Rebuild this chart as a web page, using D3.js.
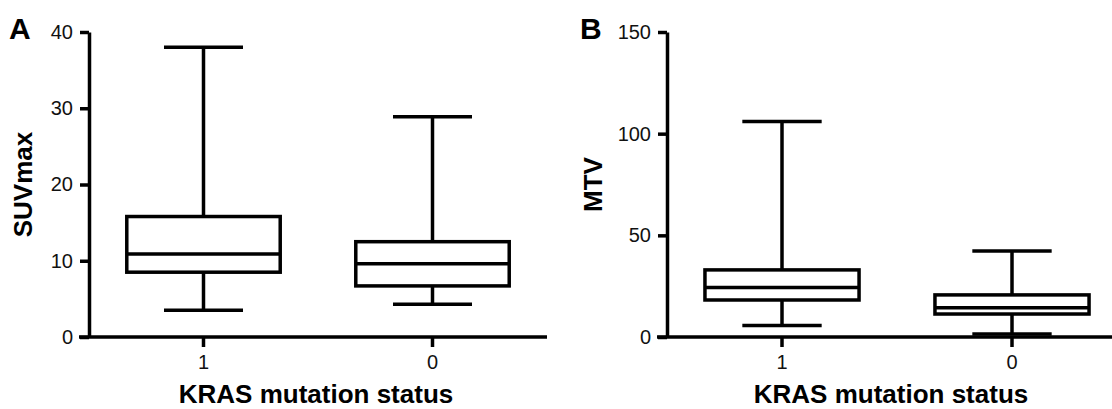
<!DOCTYPE html>
<html>
<head>
<meta charset="utf-8">
<script src="https://d3js.org/d3.v7.min.js"></script>
<style>
  body { margin: 0; background: #fff; }
  svg { font-family: "Liberation Sans", Arial, sans-serif; }
</style>
</head>
<body>
<script>
// categories on the x axis (KRAS mutation status)
var groups = ["1", "0"];

// box stats per group: [min, q1, median, q3, max]
var suvMin    = [3.5, 4.3];
var suvQ1     = [8.5, 6.7];
var suvMedian = [10.9, 9.6];
var suvQ3     = [15.8, 12.5];
var suvMax    = [38.0, 28.9];

var mtvMin    = [5.6, 1.5];
var mtvQ1     = [18.2, 11.3];
var mtvMedian = [24.3, 14.4];
var mtvQ3     = [33.0, 20.7];
var mtvMax    = [106.0, 42.3];

var suvTicks = [0, 10, 20, 30, 40];
var mtvTicks = [0, 50, 100, 150];

var width = 1112, height = 409;

var svg = d3.select("body").append("svg")
    .attr("width", width)
    .attr("height", height);

function boxes(mins, q1s, meds, q3s, maxs) {
  return groups.map((g, i) => ({g: g, min: mins[i], q1: q1s[i], med: meds[i], q3: q3s[i], max: maxs[i]}));
}

function panel(opt) {
  var g = svg.append("g");
  var x = d3.scaleBand(groups, [opt.x0, opt.x1]);
  var y = d3.scaleLinear([0, opt.ticks[opt.ticks.length - 1]], [337, 32]);
  var bw = x.bandwidth() * 0.67;
  var cw = x.bandwidth() * 0.345;
  var sw = 3.5;

  // y axis
  var ya = g.append("g")
      .attr("transform", `translate(${opt.x0},0)`)
      .call(d3.axisLeft(y).tickValues(opt.ticks).tickSize(9).tickSizeOuter(0).tickPadding(7));
  ya.select(".domain").attr("stroke-width", sw);
  ya.selectAll(".tick line").attr("stroke-width", sw);
  ya.selectAll(".tick text").attr("font-size", 20).attr("fill", "#111");

  // x axis
  var xa = g.append("g")
      .attr("transform", `translate(0,${y(0)})`)
      .call(d3.axisBottom(x).tickSize(10).tickSizeOuter(0).tickPadding(8));
  xa.select(".domain").remove();
  xa.append("line")
      .attr("x1", opt.x0 - 10).attr("x2", opt.xEnd)
      .attr("stroke", "#000").attr("stroke-width", sw);
  xa.selectAll(".tick line").attr("stroke-width", sw);
  xa.selectAll(".tick text").attr("font-size", 20).attr("fill", "#111");

  var data = opt.data;
  var bx = g.append("g")
      .attr("fill", "none")
      .attr("stroke", "#000")
      .attr("stroke-width", sw)
    .selectAll("g")
    .data(data)
    .join("g")
      .attr("transform", d => `translate(${x(d.g) + x.bandwidth() / 2},0)`);

  bx.append("line")
      .attr("y1", d => y(d.max)).attr("y2", d => y(d.q3));
  bx.append("line")
      .attr("y1", d => y(d.q1)).attr("y2", d => y(d.min));
  bx.append("line")
      .attr("x1", -cw / 2).attr("x2", cw / 2)
      .attr("y1", d => y(d.max)).attr("y2", d => y(d.max));
  bx.append("line")
      .attr("x1", -cw / 2).attr("x2", cw / 2)
      .attr("y1", d => y(d.min)).attr("y2", d => y(d.min));
  bx.append("rect")
      .attr("x", -bw / 2).attr("width", bw)
      .attr("y", d => y(d.q3)).attr("height", d => y(d.q1) - y(d.q3))
      .attr("fill", "#fff");
  bx.append("line")
      .attr("x1", -bw / 2).attr("x2", bw / 2)
      .attr("y1", d => y(d.med)).attr("y2", d => y(d.med));

  // axis titles
  g.append("text")
      .attr("x", opt.titleX).attr("y", 403)
      .attr("text-anchor", "middle")
      .attr("font-size", 26).attr("font-weight", "bold")
      .text("KRAS mutation status");
  g.append("text")
      .attr("transform", `translate(${opt.labelX},${(y.range()[0] + y.range()[1]) / 2}) rotate(-90)`)
      .attr("text-anchor", "middle")
      .attr("font-size", 26).attr("font-weight", "bold")
      .text(opt.label);
  g.append("text")
      .attr("x", opt.letterX).attr("y", 39)
      .attr("font-size", 30).attr("font-weight", "bold")
      .text(opt.letter);
}

panel({
  x0: 89, x1: 547, xEnd: 547,
  ticks: suvTicks,
  data: boxes(suvMin, suvQ1, suvMedian, suvQ3, suvMax),
  label: "SUVmax", labelX: 32, titleX: 316, letter: "A", letterX: 9
});

panel({
  x0: 667, x1: 1127, xEnd: 1112,
  ticks: mtvTicks,
  data: boxes(mtvMin, mtvQ1, mtvMedian, mtvQ3, mtvMax),
  label: "MTV", labelX: 602, titleX: 891, letter: "B", letterX: 580
});
</script>
</body>
</html>
